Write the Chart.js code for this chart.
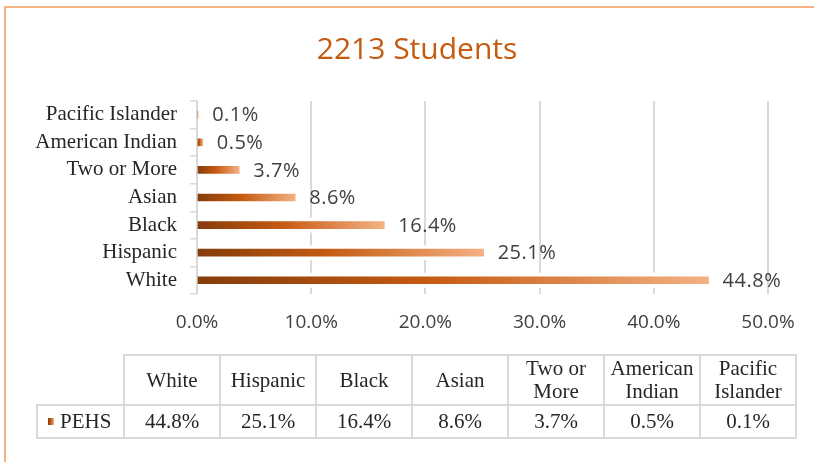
<!DOCTYPE html>
<html>
<head>
<meta charset="utf-8">
<script src="https://cdn.jsdelivr.net/npm/chart.js@4"></script>
<style>
  html, body { margin: 0; padding: 0; background: #fff; }
  #wrap { position: relative; width: 814px; height: 462px; overflow: hidden; }
  #frame { position: absolute; left: 4px; top: 6px; width: 900px; height: 600px; border: 2px solid #f4b183; }
  #chart { position: absolute; left: 0; top: 0; }
  #dataTable {
    position: absolute; left: 36px; top: 354px; width: 761px;
    border-collapse: collapse; table-layout: fixed;
    font-family: 'Liberation Serif', 'Times New Roman', serif; font-size: 21px; color: #262626;
  }
  #dataTable td { border: 2px solid #d9d9d9; text-align: center; padding: 0; line-height: 23px; }
  #dataTable tr.head td { height: 48px; }
  #dataTable tr.vals td { height: 31px; }
  #dataTable td.blank { border-top: none; border-left: none; }
  #dataTable td.series { text-align: left; padding-left: 10px; }
  .key { display: inline-block; width: 6px; height: 7px; margin-right: 6px; vertical-align: 3px;
         background: linear-gradient(90deg, #843c0c, #c55a11, #f4b183); }
</style>
</head>
<body>
<div id="wrap">
  <div id="frame"></div>
  <canvas id="chart" width="814" height="462"></canvas>
  <table id="dataTable"></table>
</div>
<script>
const titleText = '2213 Students';
const seriesName = 'PEHS';
const categories = ['White', 'Hispanic', 'Black', 'Asian', 'Two or More', 'American Indian', 'Pacific Islander'];
const pehs = [44.8, 25.1, 16.4, 8.6, 3.7, 0.5, 0.1];
const tickValues = [0, 10, 20, 30, 40, 50];

const pct = v => v.toFixed(1) + '%';

// each bar gets its own gradient, dark at the base to light at the end
function barGradient(ctx) {
    const chart = ctx.chart;
    if (!chart.chartArea || ctx.raw === undefined) return '#c55a11';
    const x = chart.scales.x;
    const x0 = x.getPixelForValue(0);
    const x1 = Math.max(x.getPixelForValue(ctx.raw), x0 + 1);
    const g = chart.ctx.createLinearGradient(x0, 0, x1, 0);
    g.addColorStop(0, '#843c0c');
    g.addColorStop(0.45, '#c55a11');
    g.addColorStop(1, '#f4b183');
    return g;
}

const barLabels = {
    id: 'barLabels',
    afterLayout(chart) {
        // title sits a bit right of the plot centre in the original
        chart.titleBlock.left += 66;
    },
    beforeDatasetsDraw(chart) {
        // white halo so gridlines break around the bars
        const c = chart.ctx;
        c.save();
        c.fillStyle = '#fff';
        chart.getDatasetMeta(0).data.forEach(el => {
            const p = el.getProps(['x', 'y', 'base', 'height'], true);
            if (p.x - p.base < 1) return;
            c.fillRect(p.base + 1, p.y - p.height / 2 - 4, p.x - p.base + 2, p.height + 8);
        });
        c.restore();
    },
    afterDatasetsDraw(chart) {
        const c = chart.ctx;
        const ds = chart.data.datasets[0];
        c.save();
        c.font = '20px "Open Sans"';
        c.letterSpacing = '0.5px';
        c.fillStyle = '#404040';
        c.textAlign = 'left';
        c.textBaseline = 'middle';
        chart.getDatasetMeta(0).data.forEach((el, i) => {
            const p = el.getProps(['x', 'y'], true);
            c.fillText(pct(ds.data[i]), p.x + 14, p.y + 1);
        });
        c.restore();
    }
};

new Chart(document.getElementById('chart'), {
    type: 'bar',
    data: {
        labels: categories,
        datasets: [{
            label: seriesName,
            data: pehs,
            backgroundColor: barGradient,
            barThickness: 7
        }]
    },
    options: {
        indexAxis: 'y',
        responsive: false,
        animation: false,
        devicePixelRatio: 1,
        layout: { padding: { left: 0, right: 46, top: 0, bottom: 128 } },
        plugins: {
            legend: { display: false },
            tooltip: { enabled: false },
            title: {
                display: true,
                text: titleText,
                color: '#c55a11',
                font: { family: 'Open Sans', size: 30, weight: 'normal' },
                padding: { top: 32, bottom: 33 }
            }
        },
        scales: {
            x: {
                min: 0,
                max: 50,
                afterBuildTicks: s => { s.ticks = tickValues.map(v => ({ value: v })); },
                afterFit: s => { s.height = 40; },
                ticks: {
                    callback: v => pct(v),
                    color: '#404040',
                    font: { family: 'Open Sans', size: 19 },
                    padding: 17,
                    maxRotation: 0
                },
                grid: { color: '#d9d9d9', lineWidth: 2, drawTicks: false },
                border: { display: false }
            },
            y: {
                reverse: true,
                afterFit: s => { s.width = 197; },
                ticks: {
                    color: '#262626',
                    font: { family: 'Liberation Serif', size: 21 },
                    padding: 13,
                    autoSkip: false
                },
                grid: { color: '#d9d9d9', lineWidth: 1.5, drawOnChartArea: false, tickLength: 7 },
                border: { color: '#d9d9d9', width: 1.5 }
            }
        }
    },
    plugins: [barLabels]
});

// data table under the chart, built from the same arrays
const table = document.getElementById('dataTable');
let html = '<colgroup><col style="width:87px">' + categories.map(() => '<col>').join('') + '</colgroup>';
html += '<tr class="head"><td class="blank"></td>' + categories.map(c => '<td>' + c + '</td>').join('') + '</tr>';
html += '<tr class="vals"><td class="series"><span class="key"></span>' + seriesName + '</td>' +
    pehs.map(v => '<td>' + pct(v) + '</td>').join('') + '</tr>';
table.innerHTML = html;
</script>
</body>
</html>
